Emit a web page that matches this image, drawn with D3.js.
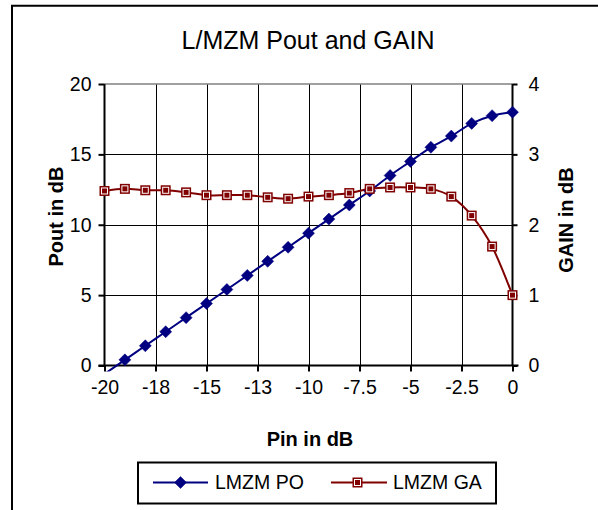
<!DOCTYPE html>
<html>
<head>
<meta charset="utf-8">
<script src="https://cdn.jsdelivr.net/npm/d3@7"></script>
<style>
  html, body { margin: 0; padding: 0; background: #fff; }
  svg { display: block; font-family: "Liberation Sans", Arial, sans-serif; }
</style>
</head>
<body>
<svg id="chart" width="598" height="510"></svg>
<script>
// ---- data ----
const pin = [-20, -19, -18, -17, -16, -15, -14, -13, -12, -11, -10, -9, -8, -7, -6, -5, -4, -3, -2, -1, 0];
const pout = [-0.6, 0.4, 1.4, 2.4, 3.4, 4.4, 5.4, 6.4, 7.4, 8.4, 9.4, 10.4, 11.4, 12.4, 13.5, 14.5, 15.5, 16.3, 17.2, 17.75, 18.0];
const gain = [2.48, 2.51, 2.49, 2.49, 2.46, 2.42, 2.42, 2.42, 2.39, 2.37, 2.40, 2.42, 2.45, 2.51, 2.53, 2.53, 2.51, 2.40, 2.13, 1.69, 1.00];
const xTickValues = [-20, -17.5, -15, -12.5, -10, -7.5, -5, -2.5, 0];
const xTickLabels = ["-20", "-18", "-15", "-13", "-10", "-7.5", "-5", "-2.5", "0"];
const yLeftTicks = [0, 5, 10, 15, 20];
const yRightTicks = [0, 1, 2, 3, 4];
const seriesNames = ["LMZM PO", "LMZM GA"];
const titleText = "L/MZM Pout and GAIN";

// ---- layout ----
const svg = d3.select("#chart");
const L = 104.5, R = 512.5, T = 84, B = 365.5;
const x = d3.scaleLinear().domain([-20, 0]).range([L, R]);
const yL = d3.scaleLinear().domain([0, 20]).range([B, T]);
const yR = d3.scaleLinear().domain([0, 4]).range([B, T]);
const navy = "#000080", maroon = "#800000";

// chart area border (extends beyond the visible window on right/bottom)
svg.append("path")
  .attr("d", "M12,520 L12,5.7 L610,5.7")
  .attr("fill", "none").attr("stroke", "#000").attr("stroke-width", 2);

// title
svg.append("text").attr("x", 308).attr("y", 48.5).attr("text-anchor", "middle")
  .attr("font-size", 25).attr("fill", "#000").text(titleText);

// gridlines
const grid = svg.append("g");
grid.selectAll("line.h").data(yLeftTicks.filter(d => d > 0 && d < 20)).enter().append("line")
  .attr("x1", L).attr("x2", R).attr("y1", d => Math.round(yL(d)) + 0.5).attr("y2", d => Math.round(yL(d)) + 0.5)
  .attr("stroke", "#000").attr("stroke-width", 1);
grid.selectAll("line.v").data(xTickValues.slice(1, -1)).enter().append("line")
  .attr("y1", T).attr("y2", B).attr("x1", d => Math.round(x(d)) + 0.5).attr("x2", d => Math.round(x(d)) + 0.5)
  .attr("stroke", "#000").attr("stroke-width", 1);
// plot area top border (gray)
svg.append("line").attr("x1", L).attr("x2", R).attr("y1", T).attr("y2", T)
  .attr("stroke", "#808080").attr("stroke-width", 1.5);

// axes
const axL = d3.axisLeft(yL).tickValues(yLeftTicks).tickSize(6).tickPadding(7).tickFormat(d3.format("d"));
const axR = d3.axisRight(yR).tickValues(yRightTicks).tickSize(5).tickPadding(11).tickFormat(d3.format("d"));
const axB = d3.axisBottom(x).tickValues(xTickValues).tickSize(6).tickPadding(8)
  .tickFormat((d, i) => xTickLabels[i]);

function styleAxis(g) {
  g.select(".domain").attr("stroke", "#000").attr("stroke-width", 2);
  g.selectAll(".tick line").attr("stroke", "#000").attr("stroke-width", 2);
  g.selectAll(".tick text").attr("fill", "#000").attr("font-size", 19.5)
    .attr("font-family", "'Liberation Sans', Arial, sans-serif");
}
const gL = svg.append("g").attr("transform", `translate(${L},0)`).call(axL).call(styleAxis);
gL.select(".domain").attr("d", `M0,${T}V${B}`);
const gR = svg.append("g").attr("transform", `translate(${R},0)`).call(axR).call(styleAxis);
gR.select(".domain").attr("d", `M0,${T}V${B}`);
const gB = svg.append("g").attr("transform", `translate(0,${B})`).call(axB).call(styleAxis);
gB.select(".domain").attr("d", `M${L - 6},0H${R + 6}`);
gB.selectAll(".tick text").attr("dy", "0.75em");

// axis titles
svg.append("text").attr("x", 310).attr("y", 446).attr("text-anchor", "middle")
  .attr("font-size", 20).attr("font-weight", "bold").text("Pin in dB");
svg.append("text").attr("transform", "translate(63,216.5) rotate(-90)").attr("text-anchor", "middle")
  .attr("font-size", 20).attr("font-weight", "bold").text("Pout in dB");
svg.append("text").attr("transform", "translate(572.5,220) rotate(-90)").attr("text-anchor", "middle")
  .attr("font-size", 20).attr("font-weight", "bold").text("GAIN in dB");

// clip
svg.append("clipPath").attr("id", "clip").append("rect")
  .attr("x", L - 2).attr("y", T - 10).attr("width", R - L + 12).attr("height", B - T + 16);

const curve = d3.curveCardinal.tension(0);
const poData = pin.map((p, i) => ({ x: p, y: pout[i] }));
const gaData = pin.map((p, i) => ({ x: p, y: gain[i] }));

const plot = svg.append("g").attr("clip-path", "url(#clip)");
plot.append("path").datum(poData)
  .attr("d", d3.line().x(d => x(d.x)).y(d => yL(d.y)).curve(curve))
  .attr("fill", "none").attr("stroke", navy).attr("stroke-width", 2);
plot.append("path").datum(gaData)
  .attr("d", d3.line().x(d => x(d.x)).y(d => yR(d.y)).curve(curve))
  .attr("fill", "none").attr("stroke", maroon).attr("stroke-width", 2);

function diamond(sel, cx, cy) {
  const r = 6;
  sel.append("path").attr("d", `M${cx},${cy - r}L${cx + r},${cy}L${cx},${cy + r}L${cx - r},${cy}Z`)
    .attr("fill", navy).attr("stroke", navy).attr("stroke-width", 0.5);
}
function square(sel, cx, cy) {
  const s = 10;
  sel.append("rect").attr("x", cx - s / 2).attr("y", cy - s / 2).attr("width", s).attr("height", s)
    .attr("fill", maroon);
  sel.append("rect").attr("x", cx - s / 2 + 2).attr("y", cy - s / 2 + 2).attr("width", s - 4).attr("height", s - 4)
    .attr("fill", "none").attr("stroke", "#fff").attr("stroke-width", 1);
}

const mk = svg.append("g");
poData.filter(d => d.y >= 0).forEach(d => diamond(mk, x(d.x), yL(d.y)));
gaData.filter(d => d.y >= 0).forEach(d => square(mk, x(d.x), yR(d.y)));

// legend
const lg = svg.append("g");
lg.append("rect").attr("x", 138).attr("y", 462.5).attr("width", 358).attr("height", 41)
  .attr("fill", "#fff").attr("stroke", "#000").attr("stroke-width", 2);
const ly = 482.5;
lg.append("line").attr("x1", 153).attr("x2", 208).attr("y1", ly).attr("y2", ly).attr("stroke", navy).attr("stroke-width", 2);
diamond(lg, 180.5, ly);
lg.append("text").attr("x", 215).attr("y", 489).attr("font-size", 19.5).text(seriesNames[0]);
lg.append("line").attr("x1", 331).attr("x2", 387).attr("y1", ly).attr("y2", ly).attr("stroke", maroon).attr("stroke-width", 2);
square(lg, 357.5, ly);
lg.append("text").attr("x", 393).attr("y", 489).attr("font-size", 19.5).text(seriesNames[1]);
</script>
</body>
</html>
